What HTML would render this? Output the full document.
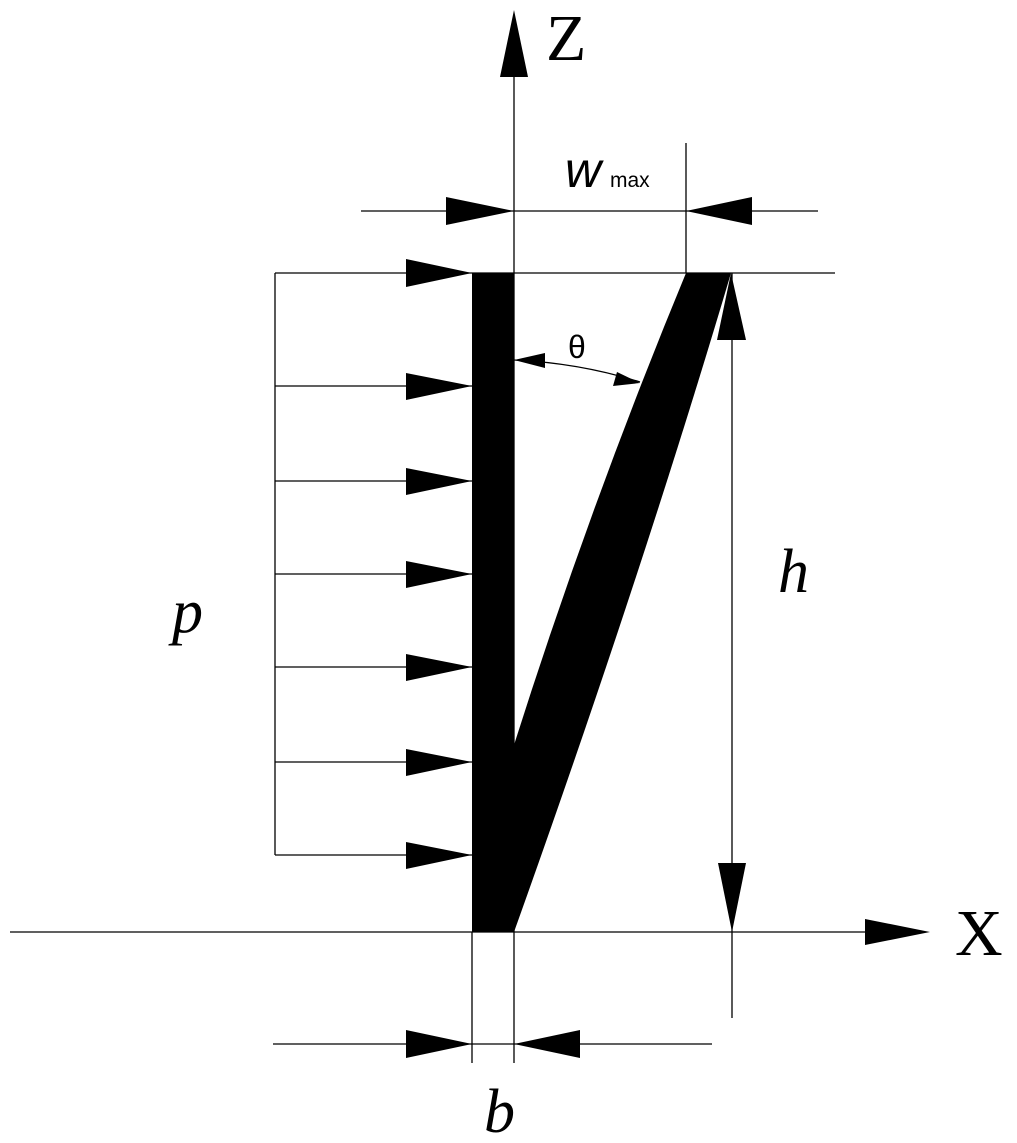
<!DOCTYPE html>
<html><head><style>body{margin:0;background:#fff}svg{display:block}</style></head>
<body>
<svg width="1017" height="1143" viewBox="0 0 1017 1143" xmlns="http://www.w3.org/2000/svg">
<g stroke="#000" stroke-width="1.3" fill="none">
<line x1="514" y1="70" x2="514" y2="932"/>
<line x1="10" y1="932" x2="870" y2="932"/>
<line x1="361" y1="211" x2="818" y2="211"/>
<line x1="686" y1="143" x2="686" y2="273"/>
<line x1="275" y1="273" x2="835" y2="273"/>
<line x1="732" y1="273" x2="732" y2="1018"/>
<line x1="275" y1="273" x2="275" y2="855"/>
<line x1="275" y1="386" x2="472" y2="386"/>
<line x1="275" y1="481" x2="472" y2="481"/>
<line x1="275" y1="574" x2="472" y2="574"/>
<line x1="275" y1="667" x2="472" y2="667"/>
<line x1="275" y1="762" x2="472" y2="762"/>
<line x1="275" y1="855" x2="472" y2="855"/>
<line x1="472" y1="932" x2="472" y2="1063"/>
<line x1="514" y1="932" x2="514" y2="1063"/>
<line x1="273" y1="1044" x2="712" y2="1044"/>
<path d="M514 360 Q580 363 640 382"/>
</g>
<g fill="#000">
<rect x="472" y="273" width="42" height="659"/>
<path d="M686 273 L731 273 Q640 580 514 932 L514 745 Q590 505 686 273 Z"/>
<polygon points="514,10 500,77 528,77"/>
<polygon points="930,932 865,919 865,945"/>
<polygon points="514,211 446,197 446,225"/>
<polygon points="686,211 752,197 752,225"/>
<polygon points="731,273 717,340 746,340"/>
<polygon points="732,932 718,863 746,863"/>
<polygon points="472,273 406,259 406,287"/>
<polygon points="472,386 406,373 406,400"/>
<polygon points="472,481 406,468 406,495"/>
<polygon points="472,574 406,561 406,588"/>
<polygon points="472,667 406,654 406,681"/>
<polygon points="472,762 406,749 406,776"/>
<polygon points="472,855 406,842 406,869"/>
<polygon points="472,1044 406,1030 406,1058"/>
<polygon points="514,1044 580,1030 580,1058"/>
<polygon points="514,360 545,353 545,368"/>
<polygon points="640,383 617,372 613,386"/>
</g>
<g font-family="'Liberation Serif', serif" fill="#000">
<text x="546" y="60" font-size="66">Z</text>
<text x="955" y="955" font-size="66">X</text>
<text x="172" y="632" font-size="62" font-style="italic">p</text>
<text x="778" y="592" font-size="62" font-style="italic">h</text>
<text x="484" y="1132" font-size="62" font-style="italic">b</text>
</g>
<g font-family="'Liberation Sans', sans-serif" fill="#000">
<text x="565" y="187" font-size="50" font-style="italic">w</text>
<text x="610" y="187" font-size="21">max</text>
<text x="568" y="358" font-size="32">θ</text>
</g>
</svg>
</body></html>
